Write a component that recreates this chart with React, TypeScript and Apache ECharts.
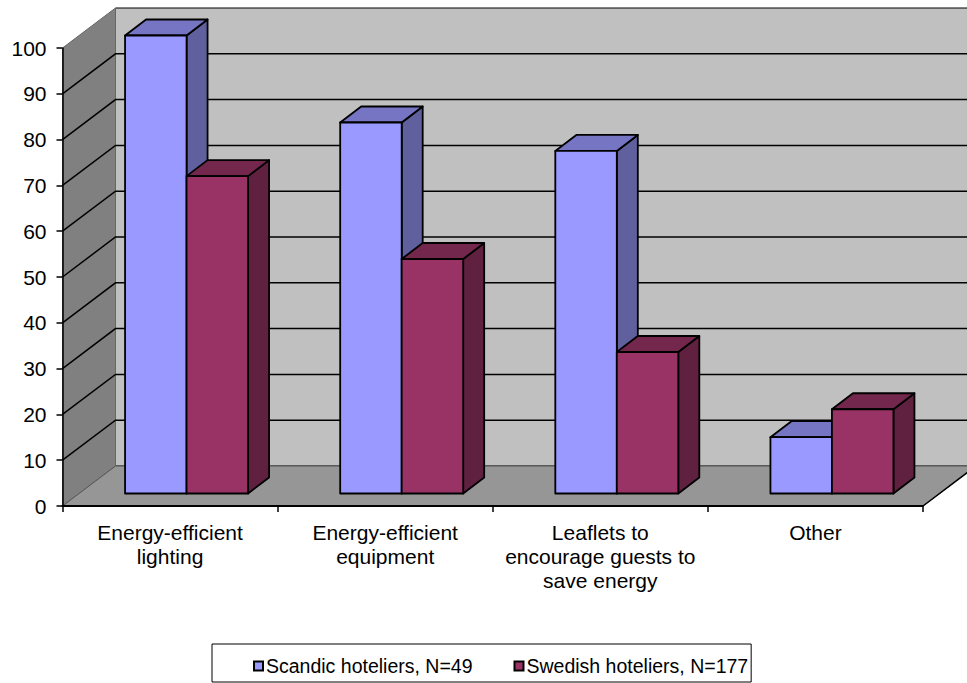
import React, { useEffect, useRef } from "react";
import * as echarts from "echarts";

const categories = [
  "Energy-efficient\nlighting",
  "Energy-efficient\nequipment",
  "Leaflets to\nencourage guests to\nsave energy",
  "Other",
];
const scandicName = "Scandic hoteliers, N=49";
const swedishName = "Swedish hoteliers, N=177";
const scandicValues = [100, 81, 74.8, 12.3];
const swedishValues = [69.3, 51.2, 30.9, 18.4];
const yTicks = [10, 20, 30, 40, 50, 60, 70, 80, 90, 100];

const FONT = '"Liberation Sans", Arial, sans-serif';
const DEPTH_X = 53;
const DEPTH_Y = -40;
const BASE_X = 16.5;
const BASE_Y = -12.5;
const BAR_W = 61.5;
const BAR_DX = 21;
const BAR_DY = -16;

const renderBackdrop = (params: any, api: any) => {
  const cs = params.coordSys;
  const x0 = cs.x;
  const x1 = cs.x + cs.width;
  const yb = cs.y + cs.height;
  const yt = cs.y;
  const children: any[] = [
    {
      type: "polygon",
      shape: { points: [[x0 + DEPTH_X, yt + DEPTH_Y], [x1 + DEPTH_X, yt + DEPTH_Y], [x1 + DEPTH_X, yb + DEPTH_Y], [x0 + DEPTH_X, yb + DEPTH_Y]] },
      style: { fill: "#C0C0C0", stroke: "#000", lineWidth: 1 },
    },
    {
      type: "polygon",
      shape: { points: [[x0, yt], [x0 + DEPTH_X, yt + DEPTH_Y], [x0 + DEPTH_X, yb + DEPTH_Y], [x0, yb]] },
      style: { fill: "#808080", stroke: "#666", lineWidth: 1 },
    },
    {
      type: "polygon",
      shape: { points: [[x0, yb], [x0 + DEPTH_X, yb + DEPTH_Y], [x1 + DEPTH_X, yb + DEPTH_Y], [x1, yb]] },
      style: { fill: "#969696", stroke: "#555", lineWidth: 1 },
    },
    {
      type: "line",
      shape: { x1: x1, y1: yb, x2: x1 + DEPTH_X, y2: yb + DEPTH_Y },
      style: { stroke: "#000", lineWidth: 1.5 },
    },
  ];
  yTicks.forEach((v) => {
    if (v === 100) return;
    const p = api.coord([0, v]);
    children.push({
      type: "polyline",
      shape: { points: [[x0, p[1]], [x0 + DEPTH_X, p[1] + DEPTH_Y], [x1 + DEPTH_X, p[1] + DEPTH_Y]] },
      style: { fill: "none", stroke: "#000", lineWidth: 1.5 },
    });
  });
  return { type: "group", children };
};

const makeBarRender =
  (front: string, top: string, side: string, offset: number) => (_: any, api: any) => {
    const i = api.value(0);
    const t = api.coord([i, api.value(1)]);
    const b = api.coord([i, 0]);
    const left = t[0] + BASE_X + offset * BAR_W;
    const right = left + BAR_W;
    const yt = t[1] + BASE_Y;
    const yb = b[1] + BASE_Y;
    const stroke = { stroke: "#000", lineWidth: 1.8, lineJoin: "round" };
    return {
      type: "group",
      children: [
        {
          type: "polygon",
          shape: { points: [[right, yt], [right + BAR_DX, yt + BAR_DY], [right + BAR_DX, yb + BAR_DY], [right, yb]] },
          style: { fill: side, ...stroke },
        },
        {
          type: "polygon",
          shape: { points: [[left, yt], [left + BAR_DX, yt + BAR_DY], [right + BAR_DX, yt + BAR_DY], [right, yt]] },
          style: { fill: top, ...stroke },
        },
        {
          type: "polygon",
          shape: { points: [[left, yt], [right, yt], [right, yb], [left, yb]] },
          style: { fill: front, ...stroke },
        },
      ],
    };
  };

export default function App() {
  const ref = useRef<HTMLDivElement>(null);
  useEffect(() => {
    const chart = echarts.init(ref.current!, undefined, { renderer: "svg" });
    chart.setOption({
      animation: false,
      backgroundColor: "#fff",
      textStyle: { fontFamily: FONT },
      grid: { left: 62.5, right: 44, top: 48, bottom: 177 },
      legend: {
        data: [scandicName, swedishName],
        left: 212,
        top: 644,
        orient: "horizontal",
        padding: [12, 3, 6, 41],
        itemGap: 41,
        itemWidth: 9,
        itemHeight: 9,
        icon: "rect",
        itemStyle: { borderColor: "#000", borderWidth: 2 },
        borderColor: "#000",
        borderWidth: 1,
        textStyle: { fontFamily: FONT, fontSize: 19.5, color: "#000", padding: [0, 0, 0, -2] },
      },
      xAxis: {
        type: "category",
        data: categories,
        z: 5,
        axisLine: { lineStyle: { color: "#000", width: 2 } },
        axisTick: { show: true, length: 6, alignWithLabel: false, lineStyle: { color: "#000", width: 1.5 } },
        axisLabel: { interval: 0, color: "#000", fontSize: 21, fontFamily: FONT, margin: 14, lineHeight: 24 },
        splitLine: { show: false },
      },
      yAxis: {
        type: "value",
        min: 0,
        max: 100,
        interval: 10,
        z: 5,
        axisLine: { show: true, lineStyle: { color: "#000", width: 1.5 } },
        axisTick: { show: true, length: 6, lineStyle: { color: "#000", width: 1.5 } },
        axisLabel: { color: "#000", fontSize: 21, fontFamily: FONT, margin: 16 },
        splitLine: { show: false },
      },
      series: [
        {
          type: "custom",
          name: "walls",
          z: 0,
          silent: true,
          renderItem: renderBackdrop,
          encode: { x: 0, y: 1 },
          data: [[0, 0]],
        },
        {
          type: "custom",
          name: scandicName,
          z: 2,
          itemStyle: { color: "#9999FF", borderColor: "#000", borderWidth: 2 },
          renderItem: makeBarRender("#9999FF", "#7575C4", "#60609F", -1),
          encode: { x: 0, y: 1 },
          data: scandicValues.map((v, i) => [i, v]),
        },
        {
          type: "custom",
          name: swedishName,
          z: 3,
          itemStyle: { color: "#993366", borderColor: "#000", borderWidth: 2 },
          renderItem: makeBarRender("#993366", "#73274D", "#60203F", 0),
          encode: { x: 0, y: 1 },
          data: swedishValues.map((v, i) => [i, v]),
        },
      ],
    });
    return () => chart.dispose();
  }, []);
  return <div ref={ref} style={{ position: "absolute", left: 0, top: 0, width: 967, height: 683 }} />;
}
